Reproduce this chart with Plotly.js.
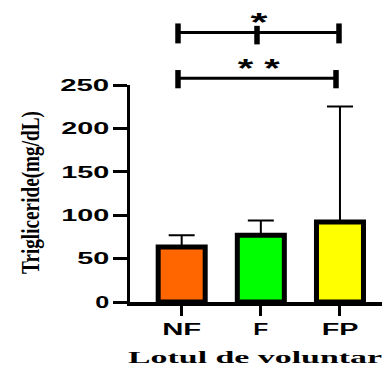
<!DOCTYPE html>
<html>
<head>
<meta charset="utf-8">
<script src="https://cdn.plot.ly/plotly-3.0.1.min.js"></script>
<style>
html,body{margin:0;padding:0;background:#fff;}
#chart{width:382px;height:365px;}
</style>
</head>
<body>
<div id="chart"></div>
<script>
// ---- data ----
const groups = ['NF', 'F', 'FP'];
const means = [63.4, 76.9, 92.2];
const errPlus = [13.6, 17.0, 133.1];
const barColors = ['#FF6600', '#00FF00', '#FFFF00'];
const yTicks = [0, 50, 100, 150, 200, 250];
const yTitle = 'Trigliceride(mg/dL)';
const xTitle = 'Lotul de voluntar';
const sigLabels = ['*', '* *'];

const W = 382, H = 365;
const M = {l: 130, r: 0, t: 85, b: 62.5};
const PW = W - M.l - M.r, PH = H - M.t - M.b;
const px = X => (X - M.l) / PW;
const py = Y => (H - M.b - Y) / PH;

const trace = {
  type: 'bar',
  x: groups,
  y: means,
  width: 0.594,
  marker: {color: barColors, line: {color: '#000', width: 5}},
  error_y: {type: 'data', symmetric: false, array: errPlus, arrayminus: [0, 0, 0],
            color: '#000', thickness: 2, width: 13},
  hoverinfo: 'none'
};

function seg(x0, y0, x1, y1, w) {
  return {type: 'line', xref: 'paper', yref: 'paper', x0: px(x0), y0: py(y0), x1: px(x1), y1: py(y1),
          line: {color: '#000', width: w}};
}

const shapes = [
  seg(178, 32.5, 339, 32.5, 3),
  seg(178, 23.3, 178, 43.3, 5.5),
  seg(339, 23.3, 339, 43.3, 5.5),
  seg(257, 25.7, 257, 44.3, 5.5),
  seg(178, 78.3, 336, 78.3, 3),
  seg(178, 70, 178, 88.3, 5.5),
  seg(336, 70, 336, 88.3, 5.5)
];

const starFont = {family: 'Liberation Sans, Arial, sans-serif', size: 26, color: '#000', weight: 'bold'};
const annotations = [
  {xref: 'paper', yref: 'paper', x: px(259.7), y: py(38.5), xanchor: 'center', yanchor: 'bottom',
   text: sigLabels[0], showarrow: false, font: starFont},
  {xref: 'paper', yref: 'paper', x: px(258.8), y: py(85), xanchor: 'center', yanchor: 'bottom',
   text: sigLabels[1], showarrow: false, font: starFont},
  {xref: 'paper', yref: 'paper', x: px(30.5), y: py(193.5), xanchor: 'center', yanchor: 'middle',
   text: yTitle, textangle: -90, showarrow: false,
   font: {family: 'Liberation Serif, Times New Roman, serif', size: 26, color: '#000', weight: 'bold'}},
  {xref: 'paper', yref: 'paper', x: px(255), y: py(358.5), xanchor: 'center', yanchor: 'middle',
   text: xTitle, showarrow: false,
   font: {family: 'Liberation Serif, Times New Roman, serif', size: 16, color: '#000', weight: 'bold'}}
];

const layout = {
  width: W, height: H,
  margin: M,
  paper_bgcolor: '#fff', plot_bgcolor: '#fff',
  showlegend: false,
  font: {family: 'Liberation Sans, Arial, sans-serif', color: '#000'},
  xaxis: {
    type: 'category', range: [-0.653, 2.531],
    showline: true, linecolor: '#000', linewidth: 3.5,
    ticks: 'outside', ticklen: 10, tickwidth: 3, tickcolor: '#000',
    tickfont: {size: 16, weight: 'bold', color: '#000'},
    showgrid: false, zeroline: false, fixedrange: true
  },
  yaxis: {
    range: [0, 250], tickvals: yTicks, ticktext: yTicks.map(String),
    showline: true, linecolor: '#000', linewidth: 3.5,
    ticks: 'outside', ticklen: 14, tickwidth: 3, tickcolor: '#000',
    tickfont: {size: 16.5, weight: 'bold', color: '#000'},
    showgrid: false, zeroline: false, fixedrange: true
  },
  shapes: shapes,
  annotations: annotations
};

// lengths of texts along their direction in the reference (it is stretched sideways)
const targetWidths = {'250': 49, '200': 48, '150': 48, '100': 48, '50': 32, '0': 14,
  'NF': 39, 'F': 15, 'FP': 36.7, 'Lotul de voluntar': 254, '*': 17, '* *': 42,
  'Trigliceride(mg/dL)': 163};

Plotly.newPlot('chart', [trace], layout, {staticPlot: true}).then(gd => {
  gd.querySelectorAll('.xtick text, .ytick text, .annotation-text').forEach(t => {
    const s = t.textContent;
    if (targetWidths[s] !== undefined) {
      t.setAttribute('textLength', targetWidths[s]);
      t.setAttribute('lengthAdjust', 'spacingAndGlyphs');
    }
  });
});
</script>
</body>
</html>
